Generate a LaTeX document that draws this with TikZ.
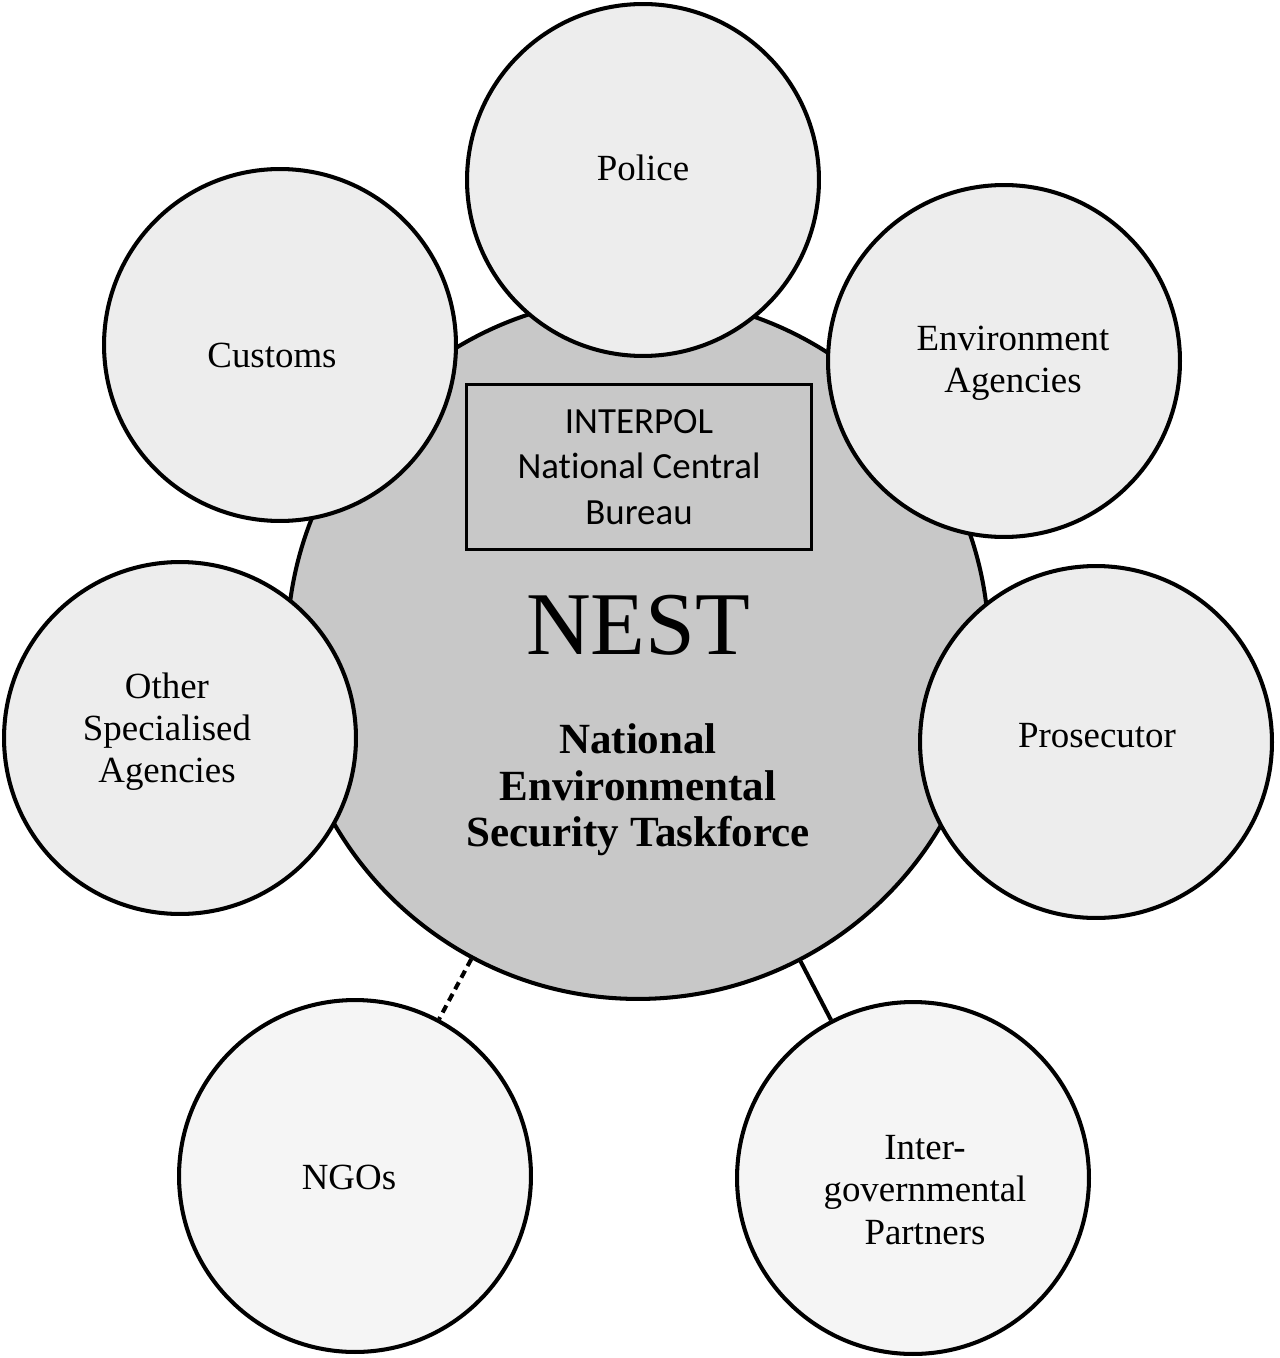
\documentclass[tikz,border=0pt]{standalone}
\usepackage{fontspec}
\setmainfont{Liberation Serif}
\newfontfamily\calibri[Ligatures=NoCommon]{Carlito}
\definecolor{mittelgrau}{HTML}{C8C8C8}
\definecolor{hellgrau}{HTML}{EDEDED}
\definecolor{weissgrau}{HTML}{F5F5F5}
\begin{document}
\begin{tikzpicture}[x=0.02cm,y=-0.02cm,
	kreis/.style={circle,draw,line width=2.3pt,minimum size=7.04cm,inner sep=0pt},
	oben/.style={kreis,fill=hellgrau},
	unten/.style={kreis,fill=weissgrau},
	schrift/.style={align=center,font=\fontsize{21}{24}\selectfont}]
\useasboundingbox (0,0) rectangle (1279,1358);
% Mitte
\node[circle,draw,line width=2.3pt,fill=mittelgrau,minimum size=14.04cm] (nest) at (638,648) {};
\node[draw,line width=1.3pt,fill=mittelgrau,minimum width=6.9cm,minimum height=3.3cm,align=center,
	font=\calibri\fontsize{21}{26}\selectfont] (ncb) at (639,467) {INTERPOL\\National Central\\Bureau};
\node[font=\fontsize{51}{51}\selectfont] (kurz) at (638,625) {NEST};
\node[align=center,font=\bfseries\fontsize{24.5}{26.5}\selectfont] (lang) at (638,790)
	{National\\Environmental\\Security Taskforce};
% Partner
\node[oben] (polizei) at (643,180) {};
\node[oben] (zoll) at (280,345) {};
\node[oben] (umwelt) at (1004,361) {};
\node[oben] (andere) at (180,738) {};
\node[oben] (anklage) at (1096,742) {};
\node[unten] (ngo) at (355,1176) {};
\node[unten] (igo) at (913,1178) {};
\node[schrift] (polizeit) at (643,168) {Police};
\node[schrift] (zollt) at (272,355) {Customs};
\node[schrift] (umweltt) at (1013,363) {Environment\\Agencies};
\node[schrift] (anderet) at (167,732) {Other\\Specialised\\Agencies};
\node[schrift] (anklaget) at (1097,736) {Prosecutor};
\node[schrift] (ngot) at (349,1177) {NGOs};
\node[schrift] (igot) at (925,1190) {Inter-\\governmental\\Partners};
% Verbindungen
\draw[line width=2.3pt,dash pattern=on 4.5pt off 3pt] (nest) -- (ngo);
\draw[line width=2.3pt] (nest) -- (igo);
\end{tikzpicture}
\end{document}
